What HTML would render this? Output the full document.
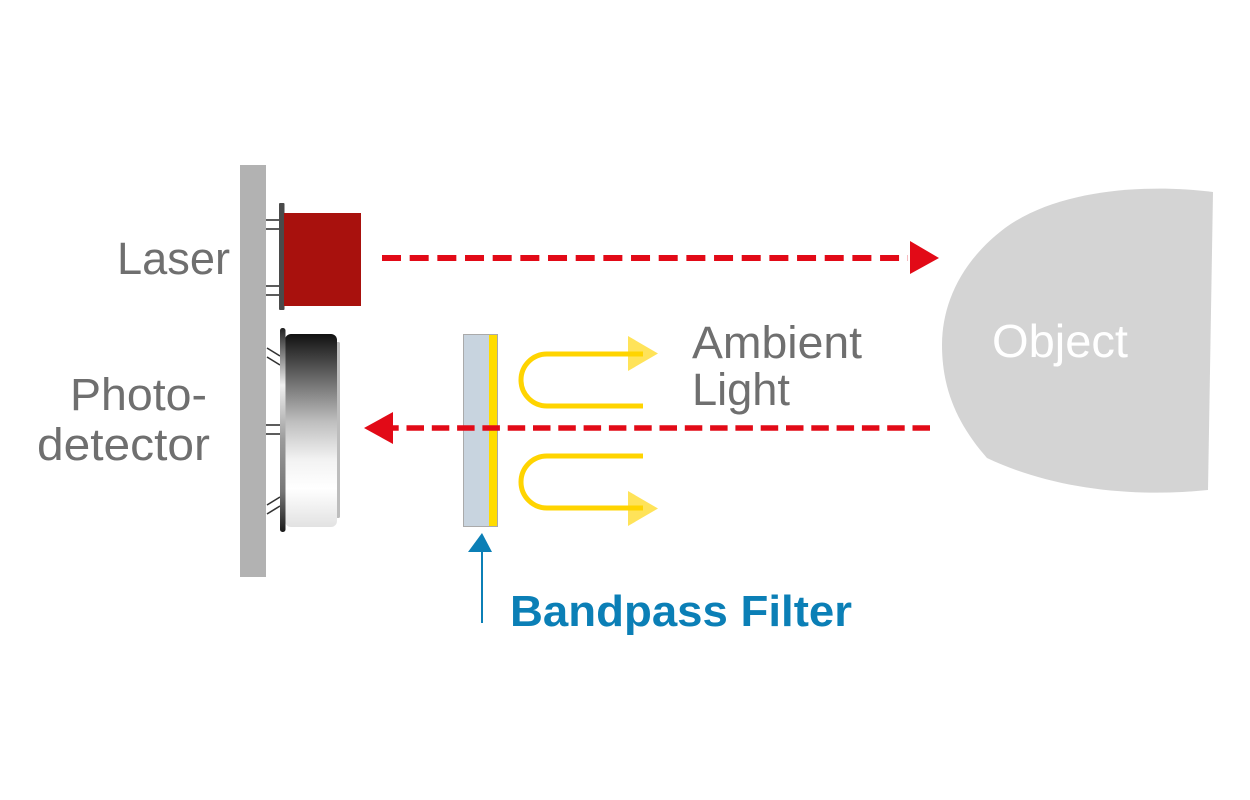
<!DOCTYPE html>
<html>
<head>
<meta charset="utf-8">
<style>
  html, body { margin: 0; padding: 0; background: #ffffff; }
  body { width: 1250px; height: 800px; overflow: hidden; }
  svg { display: block; }
  text { font-family: "Liberation Sans", Arial, sans-serif; }
</style>
</head>
<body>
<svg width="1250" height="800" viewBox="0 0 1250 800" xmlns="http://www.w3.org/2000/svg">
  <defs>
    <linearGradient id="pdBody" x1="0" y1="0" x2="0" y2="1">
      <stop offset="0" stop-color="#111111"/>
      <stop offset="0.15" stop-color="#4a4a4a"/>
      <stop offset="0.45" stop-color="#bdbdbd"/>
      <stop offset="0.65" stop-color="#f2f2f2"/>
      <stop offset="0.8" stop-color="#ffffff"/>
      <stop offset="1" stop-color="#e2e2e2"/>
    </linearGradient>
    <linearGradient id="pdPlate" x1="0" y1="0" x2="0" y2="1">
      <stop offset="0" stop-color="#222222"/>
      <stop offset="0.28" stop-color="#f0f0f0"/>
      <stop offset="0.55" stop-color="#9a9a9a"/>
      <stop offset="0.8" stop-color="#777777"/>
      <stop offset="1" stop-color="#1a1a1a"/>
    </linearGradient>
  </defs>

  <!-- board -->
  <rect x="240" y="165" width="26" height="412" fill="#b2b2b2"/>

  <!-- laser pins -->
  <g stroke="#333" stroke-width="1.6">
    <line x1="266" y1="220" x2="280" y2="220"/>
    <line x1="266" y1="229" x2="280" y2="229"/>
    <line x1="266" y1="286" x2="280" y2="286"/>
    <line x1="266" y1="295" x2="280" y2="295"/>
  </g>
  <!-- laser -->
  <rect x="279" y="203" width="5.5" height="107" rx="1" fill="#4a4a4a"/>
  <rect x="284" y="213" width="77" height="93" fill="#a8110d"/>

  <!-- photodetector pins -->
  <g stroke="#333" stroke-width="1.6">
    <line x1="267" y1="348" x2="280" y2="356"/>
    <line x1="267" y1="357" x2="280" y2="365"/>
    <line x1="266" y1="425" x2="280" y2="425"/>
    <line x1="266" y1="434" x2="280" y2="434"/>
    <line x1="267" y1="505" x2="280" y2="497"/>
    <line x1="267" y1="514" x2="280" y2="506"/>
  </g>
  <!-- photodetector -->
  <rect x="336" y="342" width="4" height="176" rx="1.5" fill="#bdbdbd"/>
  <rect x="285" y="334" width="52" height="193" rx="6" fill="url(#pdBody)"/>
  <rect x="280" y="328" width="5.5" height="204" rx="2.5" fill="url(#pdPlate)"/>

  <!-- bandpass filter -->
  <rect x="463.5" y="334.5" width="34" height="192" fill="#c8d4df" stroke="#aaaaaa" stroke-width="1"/>
  <rect x="489" y="335" width="8" height="191" fill="#ffdc00"/>

  <!-- red laser path out -->
  <line x1="382" y1="258" x2="908" y2="258" stroke="#e20a17" stroke-width="6" stroke-dasharray="19 8.67"/>
  <polygon points="910,241 939,258 910,274" fill="#e20a17"/>

  <!-- red return path -->
  <line x1="930" y1="428" x2="393" y2="428" stroke="#e20a17" stroke-width="5.5" stroke-dasharray="17.5 7.8"/>
  <polygon points="393,412 364,428 393,444" fill="#e20a17"/>

  <!-- ambient light U arrows -->
  <g fill="none" stroke="#ffd400" stroke-width="5">
    <path d="M643,354 H547 A26,26 0 0 0 547,406 H643"/>
    <path d="M643,456 H547 A26,26 0 0 0 547,508 H643"/>
  </g>
  <g fill="#ffd400" fill-opacity="0.65">
    <polygon points="628,336 658,353.5 628,371"/>
    <polygon points="628,491 658,508.5 628,526"/>
  </g>

  <!-- object -->
  <path d="M1213,192 C1150,184 1060,188 1005,228 C960,262 942,305 942,345 C942,390 958,425 987,458 C1050,488 1130,498 1208,490 Z" fill="#d4d4d4"/>

  <!-- blue arrow -->
  <line x1="482" y1="623" x2="482" y2="550" stroke="#0b7fb6" stroke-width="2"/>
  <polygon points="468,552 482,533 492,552" fill="#0b7fb6"/>

  <!-- labels -->
  <g fill="#6f6f6f" font-size="45">
    <text x="117" y="274" textLength="113" lengthAdjust="spacingAndGlyphs">Laser</text>
    <text x="70" y="410" textLength="137" lengthAdjust="spacingAndGlyphs">Photo-</text>
    <text x="37" y="460" textLength="173" lengthAdjust="spacingAndGlyphs">detector</text>
    <text x="692" y="358" textLength="170" lengthAdjust="spacingAndGlyphs">Ambient</text>
    <text x="692" y="405" textLength="98" lengthAdjust="spacingAndGlyphs">Light</text>
  </g>
  <text x="992" y="357" font-size="46" fill="#ffffff" textLength="136" lengthAdjust="spacingAndGlyphs">Object</text>
  <text x="510" y="626" font-size="44" font-weight="bold" fill="#0b7fb6" textLength="342" lengthAdjust="spacingAndGlyphs">Bandpass Filter</text>
</svg>
</body>
</html>
